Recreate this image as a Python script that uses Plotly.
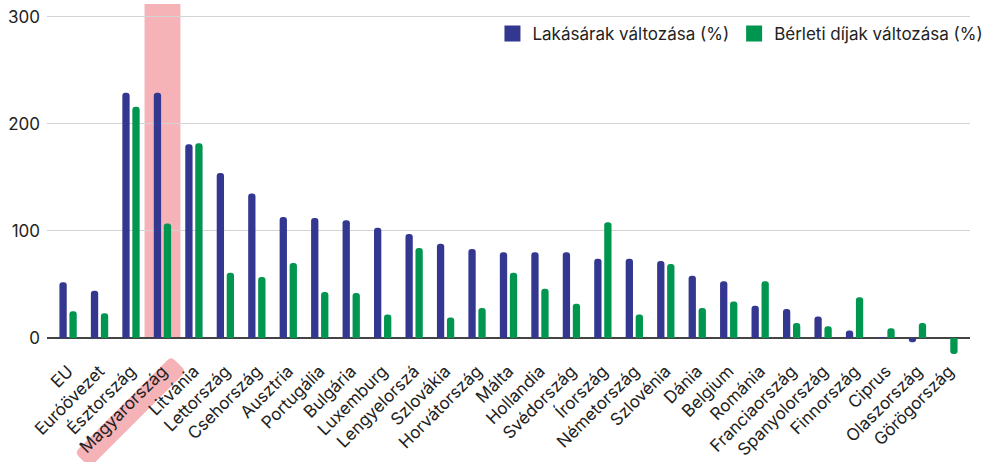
import math
import plotly.graph_objects as go

categories = ["EU", "Euróövezet", "Észtország", "Magyarország", "Litvánia", "Lettország",
              "Csehország", "Ausztria", "Portugália", "Bulgária", "Luxemburg", "Lengyelorszá",
              "Szlovákia", "Horvátország", "Málta", "Hollandia", "Svédország", "Írország",
              "Németország", "Szlovénia", "Dánia", "Belgium", "Románia", "Franciaország",
              "Spanyolország", "Finnország", "Ciprus", "Olaszország", "Görögország"]
house_prices = [52, 44, 229, 229, 181, 154, 135, 113, 112, 110, 103, 97, 88, 83, 80, 80, 80,
                74, 74, 72, 58, 53, 30, 27, 20, 7, 0.5, -4, 0]
rents = [25, 23, 216, 107, 182, 61, 57, 70, 43, 42, 22, 84, 19, 28, 61, 46, 32,
         108, 22, 69, 28, 34, 53, 14, 11, 38, 9, 14, -15]
y_ticks = [0, 100, 200, 300]
highlight = "Magyarország"
name_house = "Lakásárak változása (%)"
name_rent = "Bérleti díjak változása (%)"

BLUE = "#33378F"
GREEN = "#00964F"
PINK = "#F5B3B8"
FONT = "Inter"

x_range = [-0.67, len(categories) - 1 + 0.67]
y_range = [-17.8, 312]

fig = go.Figure()
fig.add_trace(go.Bar(x=categories, y=house_prices, name=name_house,
                     marker_color=BLUE, marker_line_width=0, showlegend=False))
fig.add_trace(go.Bar(x=categories, y=rents, name=name_rent,
                     marker_color=GREEN, marker_line_width=0, showlegend=False))
for nm, col in [(name_house, BLUE), (name_rent, GREEN)]:
    fig.add_trace(go.Scatter(x=[None], y=[None], mode="markers", name=nm,
                             marker=dict(symbol="square", size=17, color=col), showlegend=True))

hi = categories.index(highlight)
fig.add_shape(type="rect", xref="x", yref="y", x0=hi - 0.57, x1=hi + 0.57, y0=0, y1=y_range[1],
              fillcolor=PINK, line_width=0, layer="below")


def rounded_rot_rect(cx, cy, length, thick, ang_deg, r):
    a = math.radians(ang_deg)
    ux, uy = math.cos(a), math.sin(a)
    vx, vy = -uy, ux
    hl, ht = length / 2, thick / 2
    corners = [(hl, -ht), (hl, ht), (-hl, ht), (-hl, -ht)]

    def P(s, t):
        x = cx + s * ux + t * vx
        y = cy + s * uy + t * vy
        return x, -y
    seq = []
    n = len(corners)
    for i in range(n):
        s, t = corners[i]
        ps, pt = corners[i - 1]
        ns, nt = corners[(i + 1) % n]
        ds, dt = ps - s, pt - t
        d = math.hypot(ds, dt)
        b = (s + ds / d * r, t + dt / d * r)
        ds2, dt2 = ns - s, nt - t
        d2 = math.hypot(ds2, dt2)
        e = (s + ds2 / d2 * r, t + dt2 / d2 * r)
        seq.append((P(*b), P(s, t), P(*e)))
    path = ""
    for i, (b, c, e) in enumerate(seq):
        path += ("M" if i == 0 else "L") + f"{b[0]:.1f},{b[1]:.1f}"
        path += f"Q{c[0]:.1f},{c[1]:.1f} {e[0]:.1f},{e[1]:.1f}"
    return path + "Z"


xa_paper = (hi - x_range[0]) / (x_range[1] - x_range[0])
fig.add_shape(type="path", xref="paper", yref="paper", xsizemode="pixel", ysizemode="pixel",
              xanchor=xa_paper, yanchor=0,
              path=rounded_rot_rect(-32, 55, 136, 21, -45, 5),
              fillcolor=PINK, line_width=0, layer="below")

fig.update_layout(
    width=984, height=462,
    margin=dict(l=47, r=14, t=4, b=105, autoexpand=False),
    paper_bgcolor="white", plot_bgcolor="white",
    barmode="group", bargap=0.364, bargroupgap=0.27, barcornerradius=4,
    font=dict(family=FONT, color="#222222"),
    showlegend=True,
    legend=dict(orientation="h", x=1.02, xanchor="right", y=0.915, yanchor="middle",
                font=dict(size=17, color="#222222"), bgcolor="rgba(0,0,0,0)",
                itemsizing="trace", traceorder="normal"),
    xaxis=dict(type="category", range=x_range, tickangle=-45, showgrid=False,
               showline=False, ticks="", tickfont=dict(size=17, color="#222222"),
               zeroline=False, automargin=False),
    yaxis=dict(range=y_range, tickvals=y_ticks, showgrid=True, gridcolor="#D3D3D3",
               gridwidth=1, zeroline=True, zerolinecolor="#444444", zerolinewidth=1.5,
               showline=False, ticks="", tickfont=dict(size=17, color="#222222"),
               ticklabelstandoff=6, automargin=False),
)

fig.write_html("out.html", config={"displayModeBar": False},
               post_script="document.body.style.margin='0';")
